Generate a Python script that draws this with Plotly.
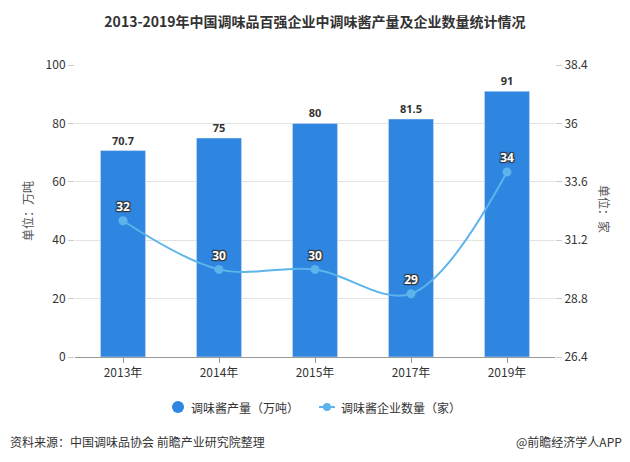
import plotly.graph_objects as go

categories = ["2013年", "2014年", "2015年", "2017年", "2019年"]
output_values = [70.7, 75, 80, 81.5, 91]
company_counts = [32, 30, 30, 29, 34]
output_labels = ["70.7", "75", "80", "81.5", "91"]
series_names = ["调味酱产量（万吨）", "调味酱企业数量（家）"]

bar_color = "#2f86e0"
line_color = "#5cb4ea"
font_family = "Noto Sans CJK SC, Noto Sans, sans-serif"

L, R, T, B, W, H = 75, 75, 65, 105, 630, 462
PW, PH = W - L - R, H - T - B


def px(xp, yp):
    return (xp - L) / PW, (H - B - yp) / PH


def note(text, xp, yp, xanchor="center", angle=0, color="#333333"):
    x_, y_ = px(xp, yp)
    fig.add_annotation(text=text, x=x_, y=y_, xref="paper", yref="paper",
                       xanchor=xanchor, yanchor="middle", showarrow=False,
                       textangle=angle, font=dict(size=12, color=color))


fig = go.Figure()

fig.add_trace(go.Bar(
    x=categories, y=output_values, name=series_names[0],
    marker=dict(color=bar_color), width=0.47,
    text=output_labels, textposition="outside",
    textfont=dict(size=11, color="#333333", family="Noto Sans, sans-serif", weight="bold"),
    cliponaxis=False, showlegend=False,
))

fig.add_trace(go.Scatter(
    x=categories, y=company_counts, name=series_names[1], yaxis="y2",
    mode="lines+markers+text",
    line=dict(color=line_color, width=2, shape="spline", smoothing=1.0),
    marker=dict(size=9, color=line_color),
    text=[str(v) for v in company_counts], textposition="top center",
    textfont=dict(size=12, color="white", family="Noto Sans, sans-serif", weight="bold",
                  shadow="1px 1px 1px #333, -1px -1px 1px #333, 1px -1px 1px #333, -1px 1px 1px #333"),
    cliponaxis=False, showlegend=False,
))

fig.update_layout(
    width=W, height=H,
    margin=dict(l=L, r=R, t=T, b=B),
    paper_bgcolor="white", plot_bgcolor="white",
    font=dict(family=font_family, size=12, color="#333333"),
    title=dict(text="<b>2013-2019年中国调味品百强企业中调味酱产量及企业数量统计情况</b>",
               x=0.5, xanchor="center", y=1 - 22 / H, yanchor="middle",
               font=dict(size=14, color="#333333", family=font_family)),
    showlegend=False,
    xaxis=dict(
        type="category", range=[-0.5, 4.5],
        showline=True, linecolor="#999999", linewidth=1,
        ticks="outside", ticklen=5, tickcolor="#999999",
        tickfont=dict(size=12, color="#333333"),
        showgrid=False, fixedrange=True,
    ),
    yaxis=dict(
        range=[0, 100], dtick=20, tick0=0,
        showgrid=True, gridcolor="#e3e3e3", gridwidth=1,
        showline=False, ticks="outside", ticklen=6, tickcolor="#cccccc",
        tickfont=dict(size=12, color="#333333"), zeroline=False,
    ),
    yaxis2=dict(
        range=[26.4, 38.4], dtick=2.4, tick0=26.4, overlaying="y", side="right",
        showgrid=False, showline=False, ticks="outside", ticklen=6, tickcolor="#cccccc",
        tickfont=dict(size=12, color="#333333"), zeroline=False,
    ),
)

# axis titles
note("单位：万吨", 27, 211, angle=-90, color="#555555")
note("单位：家", 605, 209, angle=90, color="#555555")

# custom legend
ly = px(0, 407)[1]
cx = px(178, 0)[0]
fig.add_shape(type="circle", xref="paper", yref="paper", xsizemode="pixel", ysizemode="pixel",
              xanchor=cx, yanchor=ly, x0=-6, x1=6, y0=-6, y1=6,
              fillcolor=bar_color, line=dict(width=0))
note(series_names[0], 189, 407, xanchor="left")
l0, l1 = px(319, 0)[0], px(335, 0)[0]
fig.add_shape(type="line", xref="paper", yref="paper", x0=l0, x1=l1, y0=ly, y1=ly,
              line=dict(color=line_color, width=2))
fig.add_shape(type="circle", xref="paper", yref="paper", xsizemode="pixel", ysizemode="pixel",
              xanchor=(l0 + l1) / 2, yanchor=ly, x0=-4, x1=4, y0=-4, y1=4,
              fillcolor=line_color, line=dict(width=0))
note(series_names[1], 339, 407, xanchor="left")

# footer
note("资料来源：中国调味品协会 前瞻产业研究院整理", 8, 441, xanchor="left")
note("@前瞻经济学人APP", 624, 441, xanchor="right")

fig.write_html("out.html", post_script="document.body.style.margin='0';",
               config={"displayModeBar": False})
